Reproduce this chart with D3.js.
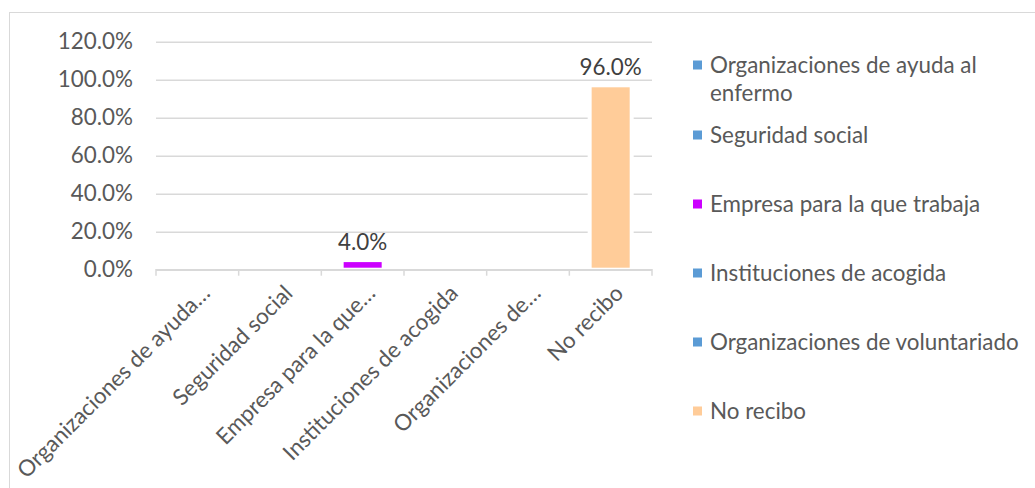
<!DOCTYPE html>
<html>
<head>
<meta charset="utf-8">
<script src="https://cdn.jsdelivr.net/npm/d3@7"></script>
<style>
  html, body { margin: 0; padding: 0; background: #fff; }
  svg { display: block; }
  text { font-family: Lato, "Open Sans", sans-serif; }
</style>
</head>
<body>
<svg id="chart" width="1035" height="488"></svg>
<script>
// Category names (full) and the shortened versions shown under the axis
const categories = [
  "Organizaciones de ayuda al enfermo",
  "Seguridad social",
  "Empresa para la que trabaja",
  "Instituciones de acogida",
  "Organizaciones de voluntariado",
  "No recibo"
];
const axisLabels = [
  "Organizaciones de ayuda…",
  "Seguridad social",
  "Empresa para la que…",
  "Instituciones de acogida",
  "Organizaciones de…",
  "No recibo"
];
// Share of respondents per source of support
const values = [0, 0, 0.04, 0, 0, 0.96];
const colors = ["#5B9BD5", "#5B9BD5", "#CC00FF", "#5B9BD5", "#5B9BD5", "#FFCC99"];
const yTicks = [0, 0.2, 0.4, 0.6, 0.8, 1.0, 1.2];
// Legend entries may wrap onto two lines
const legendLines = [
  ["Organizaciones de ayuda al", "enfermo"],
  ["Seguridad social"],
  ["Empresa para la que trabaja"],
  ["Instituciones de acogida"],
  ["Organizaciones de voluntariado"],
  ["No recibo"]
];

const svg = d3.select("#chart");
const textColor = "#595959";
const gridColor = "#D9D9D9";
const fontSize = 22.4;

// Outer frame of the chart area
svg.append("rect")
  .attr("x", 9.5).attr("y", 12.5)
  .attr("width", 1100).attr("height", 600)
  .attr("fill", "#fff")
  .attr("stroke", gridColor).attr("stroke-width", 1);

const plot = { left: 156, right: 652, top: 41.7, bottom: 269.7 };

const x = d3.scaleBand()
  .domain(categories)
  .range([plot.left, plot.right])
  .paddingInner(0.54)
  .paddingOuter(0.27);

const y = d3.scaleLinear()
  .domain([0, 1.2])
  .range([plot.bottom, plot.top]);

// Horizontal gridlines and percentage tick labels
const yAxis = d3.axisLeft(y)
  .tickValues(yTicks)
  .tickFormat(d3.format(".1%"))
  .tickSize(-(plot.right - plot.left))
  .tickPadding(23);

const gy = svg.append("g")
  .attr("transform", `translate(${plot.left},0)`)
  .call(yAxis);
gy.select(".domain").remove();
gy.selectAll(".tick line")
  .attr("stroke", gridColor).attr("stroke-width", 1.5);
gy.selectAll(".tick text")
  .attr("fill", textColor)
  .style("font-size", fontSize + "px")
  .style("font-family", "Lato, sans-serif");

// Bars with a white halo that interrupts the gridlines
const bars = svg.append("g");
bars.selectAll("rect.halo")
  .data(categories)
  .join("rect")
  .attr("class", "halo")
  .attr("x", d => x(d) - 4)
  .attr("width", x.bandwidth() + 8)
  .attr("y", (d, i) => y(values[i]) - 2)
  .attr("height", (d, i) => values[i] > 0 ? y(0) - y(values[i]) + 2 : 0)
  .attr("fill", "#fff");
bars.selectAll("rect.bar")
  .data(categories)
  .join("rect")
  .attr("class", "bar")
  .attr("x", d => x(d))
  .attr("width", x.bandwidth())
  .attr("y", (d, i) => y(values[i]))
  .attr("height", (d, i) => Math.max(0, y(0) - y(values[i]) - 2))
  .attr("fill", (d, i) => colors[i]);

// Category axis along the baseline
const xAxis = d3.axisBottom(x)
  .tickSizeOuter(0)
  .tickSizeInner(6)
  .tickFormat((d, i) => axisLabels[i]);
const gx = svg.append("g")
  .attr("transform", `translate(0,${plot.bottom})`)
  .call(xAxis);
gx.select(".domain")
  .attr("stroke", gridColor).attr("stroke-width", 1.5)
  .attr("d", `M${plot.left},6V0H${plot.right}V6`);
// Tick marks sit on the boundaries between categories
gx.selectAll(".tick line").remove();
gx.selectAll("line.sep")
  .data(categories.slice(1))
  .join("line")
  .attr("class", "sep")
  .attr("x1", d => x(d) - x.paddingInner() * x.step() / 2)
  .attr("x2", d => x(d) - x.paddingInner() * x.step() / 2)
  .attr("y1", 0).attr("y2", 6)
  .attr("stroke", gridColor).attr("stroke-width", 1.5);
gx.selectAll(".tick text")
  .attr("fill", textColor)
  .style("font-size", fontSize + "px")
  .style("font-family", "Lato, sans-serif")
  .attr("text-anchor", "end")
  .attr("x", 0).attr("y", 0).attr("dy", 0)
  .attr("transform", "translate(14,25) rotate(-45)");

// Value labels above the non-zero bars
svg.append("g").selectAll("text")
  .data(categories.filter((d, i) => values[i] > 0))
  .join("text")
  .attr("x", d => x(d) + x.bandwidth() / 2)
  .attr("y", d => y(values[categories.indexOf(d)]) - 12)
  .attr("text-anchor", "middle")
  .attr("fill", "#404040")
  .style("font-size", fontSize + "px")
  .text(d => d3.format(".1%")(values[categories.indexOf(d)]));

// Legend
const legendY = [65, 135, 204, 273, 342, 411];
const lg = svg.append("g");
legendLines.forEach((lines, i) => {
  lg.append("rect")
    .attr("x", 693).attr("y", legendY[i] - 4.5)
    .attr("width", 9).attr("height", 9)
    .attr("fill", colors[i]);
  lines.forEach((ln, j) => {
    lg.append("text")
      .attr("x", 710)
      .attr("y", legendY[i] + j * 28)
      .attr("dy", "0.36em")
      .attr("fill", textColor)
      .style("font-size", fontSize + "px")
      .text(ln);
  });
});
</script>
</body>
</html>
